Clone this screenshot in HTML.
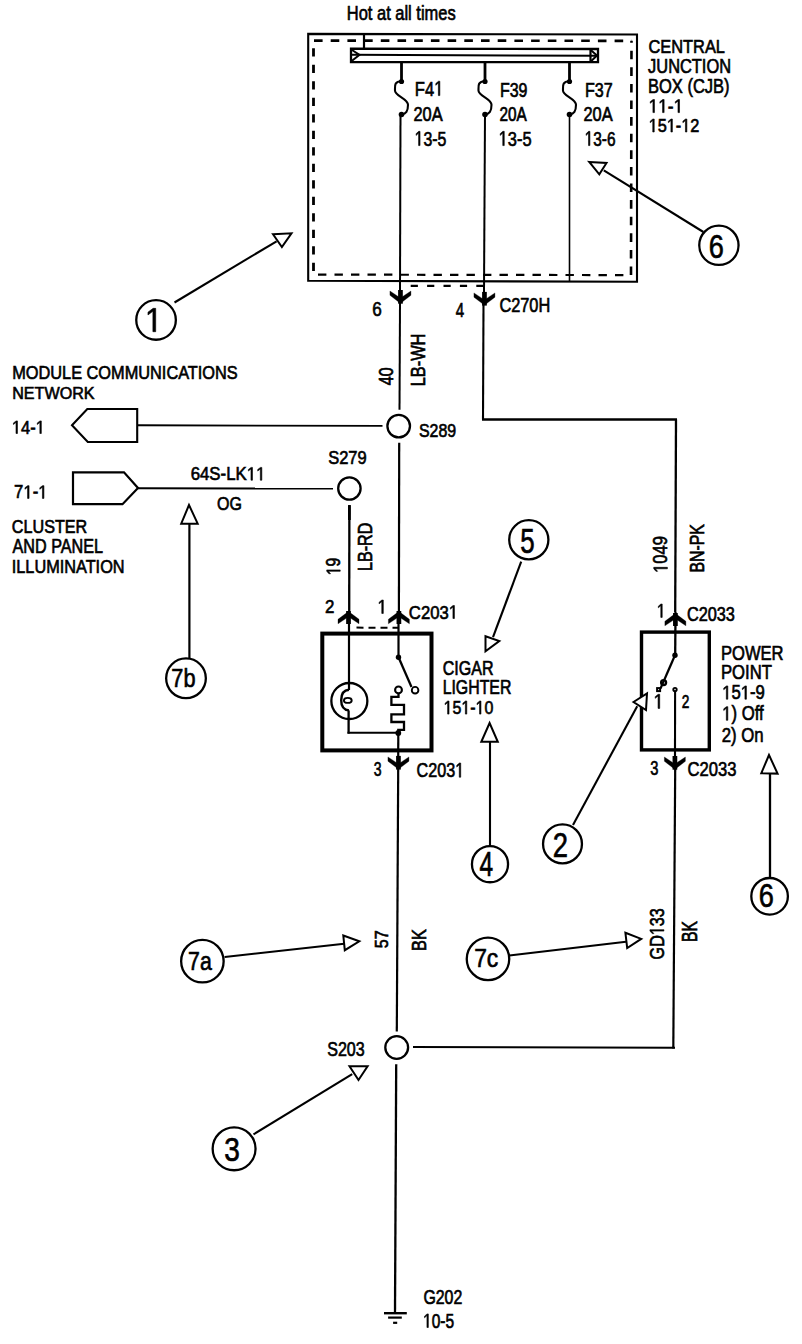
<!DOCTYPE html>
<html><head><meta charset="utf-8"><style>
html,body{margin:0;padding:0;background:#fff;}
svg{display:block;}
text{font-family:"Liberation Sans",sans-serif;fill:#000;stroke:#000;}
</style></head><body>
<svg width="802" height="1344" viewBox="0 0 802 1344">
<rect x="0" y="0" width="802" height="1344" fill="#fff"/>
<g stroke="#000" fill="none" stroke-linecap="butt">
<polygon points="308.2,33.9 637,34.5 637,281.8 308.2,280.7" stroke-width="2.1" fill="none"/>
<line x1="313.5" y1="40.6" x2="631.5" y2="40.8" stroke-width="2.7" stroke-dasharray="8.6 8.1" stroke-dashoffset="16.20"/>
<line x1="313.5" y1="274.5" x2="313.5" y2="40.6" stroke-width="2.8" stroke-dasharray="8.2 8.3" stroke-dashoffset="12.90"/>
<line x1="313.5" y1="274.6" x2="631" y2="275.1" stroke-width="2.2" stroke-dasharray="8.4 8.1" stroke-dashoffset="12.00"/>
<line x1="631" y1="275.1" x2="631.5" y2="40.8" stroke-width="2.6" stroke-dasharray="8.6 8.0" stroke-dashoffset="0.00"/>
<line x1="364" y1="34" x2="364" y2="48" stroke-width="2.2"/>
<polygon points="351,48.6 598,49 598,62.2 351,62" stroke-width="2.3" fill="none"/>
<line x1="351" y1="54.8" x2="598" y2="55.8" stroke-width="1.9"/>
<polyline points="352,50 359.5,54.8 352,60.8" stroke-width="2" fill="none"/>
<line x1="590.5" y1="49" x2="590.5" y2="62" stroke-width="2.2"/>
<polyline points="591,50.2 597,55.6 591,61.2" stroke-width="2" fill="none"/>
<line x1="401.5" y1="62" x2="401.5" y2="81" stroke-width="2.8"/>
<path d="M401.5,81 C394.0,82 395.0,85 395.0,90.75 C395.0,95.75 408.0,98.75 408.0,104.75 C408.0,111.5 406.0,113.5 401.5,114.5" stroke-width="2.1" fill="none"/>
<circle cx="401.5" cy="81.5" r="2.6" stroke="none" fill="#000"/>
<circle cx="401.5" cy="114.5" r="2.8" stroke="none" fill="#000"/>
<line x1="485" y1="62" x2="485" y2="81" stroke-width="2.8"/>
<path d="M485,81 C477.5,82 478.5,85 478.5,90.75 C478.5,95.75 491.5,98.75 491.5,104.75 C491.5,111.5 489.5,113.5 485,114.5" stroke-width="2.1" fill="none"/>
<circle cx="485" cy="81.5" r="2.6" stroke="none" fill="#000"/>
<circle cx="485" cy="114.5" r="2.8" stroke="none" fill="#000"/>
<line x1="569.5" y1="62" x2="569.5" y2="81" stroke-width="2.8"/>
<path d="M569.5,81 C562.0,82 563.0,85 563.0,90.75 C563.0,95.75 576.0,98.75 576.0,104.75 C576.0,111.5 574.0,113.5 569.5,114.5" stroke-width="2.1" fill="none"/>
<circle cx="569.5" cy="81.5" r="2.6" stroke="none" fill="#000"/>
<circle cx="569.5" cy="114.5" r="2.8" stroke="none" fill="#000"/>
<line x1="400.5" y1="114.5" x2="400" y2="291" stroke-width="2"/>
<line x1="485" y1="114.5" x2="484" y2="292" stroke-width="2"/>
<line x1="569.5" y1="114.5" x2="569.5" y2="281" stroke-width="1.6"/>
<line x1="410.7" y1="285.8" x2="483.3" y2="285.8" stroke-width="2.3" stroke-dasharray="7.2 9.2"/>
<rect x="398.10" y="290.00" width="4.7" height="13.70" fill="#000" stroke="none"/>
<polygon points="389.95,291 398.95,297 398.95,302.2 389.95,295.3" stroke-width="0.3" fill="#000"/>
<polygon points="410.95,291 401.95,297 401.95,302.2 410.95,295.3" stroke-width="0.3" fill="#000"/>
<rect x="482.10" y="291.90" width="4.7" height="13.70" fill="#000" stroke="none"/>
<polygon points="473.95,292.9 482.95,298.9 482.95,304.09999999999997 473.95,297.2" stroke-width="0.3" fill="#000"/>
<polygon points="494.95,292.9 485.95,298.9 485.95,304.09999999999997 494.95,297.2" stroke-width="0.3" fill="#000"/>
<line x1="400" y1="303" x2="399.5" y2="409.7" stroke-width="2"/>
<circle cx="398.7" cy="426.1" r="11.3" stroke-width="2.3" fill="none"/>
<line x1="138" y1="425.3" x2="382.5" y2="425.9" stroke-width="1.9"/>
<line x1="399.2" y1="442.8" x2="398.9" y2="612" stroke-width="2.2"/>
<line x1="483.5" y1="303" x2="483" y2="419.5" stroke-width="2.1"/>
<line x1="482" y1="419.5" x2="677" y2="419.6" stroke-width="2.5"/>
<line x1="676" y1="419.5" x2="675.2" y2="612" stroke-width="2.3"/>
<circle cx="349.4" cy="488.5" r="11.2" stroke-width="2.3" fill="none"/>
<line x1="138" y1="488.2" x2="333" y2="488.6" stroke-width="2"/>
<line x1="349.4" y1="505" x2="349.2" y2="612" stroke-width="2.3"/>
<line x1="349.4" y1="505.2" x2="349.4" y2="520" stroke-width="2.8"/>
<polygon points="72,425.3 87.3,409 137.2,409 137.2,442 87.8,442" stroke-width="2.1" fill="none"/>
<polygon points="73,472.3 124,472.3 138,488 122.5,504.2 73,504.2" stroke-width="2.2" fill="none"/>
<rect x="322.3" y="633.6" width="109.2" height="116.8" stroke-width="4" fill="none"/>
<rect x="346.15" y="611.00" width="4.7" height="13" fill="#000" stroke="none"/>
<polygon points="338.0,623.8 347.0,617.8 347.0,612.5999999999999 338.0,619.3" stroke-width="0.3" fill="#000"/>
<polygon points="359.0,623.8 350.0,617.8 350.0,612.5999999999999 359.0,619.3" stroke-width="0.3" fill="#000"/>
<rect x="396.55" y="611.00" width="4.7" height="13" fill="#000" stroke="none"/>
<polygon points="388.4,623.8 397.4,617.8 397.4,612.5999999999999 388.4,619.3" stroke-width="0.3" fill="#000"/>
<polygon points="409.4,623.8 400.4,617.8 400.4,612.5999999999999 409.4,619.3" stroke-width="0.3" fill="#000"/>
<line x1="356.5" y1="627.6" x2="398" y2="627.8" stroke-width="2" stroke-dasharray="7 5" stroke-dashoffset="0"/>
<line x1="349" y1="612" x2="349" y2="690" stroke-width="2.2"/>
<line x1="398.5" y1="612" x2="398.5" y2="657" stroke-width="2.2"/>
<circle cx="398.5" cy="657.3" r="2.7" stroke="none" fill="#000"/>
<line x1="398.5" y1="657.3" x2="411.5" y2="687" stroke-width="2.3"/>
<circle cx="415.1" cy="690.2" r="3.3" stroke-width="1.9" fill="none"/>
<circle cx="398.5" cy="689.9" r="3.4" stroke-width="2.1" fill="none"/>
<circle cx="349.35" cy="701" r="18" stroke-width="2.3" fill="none"/>
<path d="M349,689.8 C343,690.2 341.2,695 341.2,700.3 C341.2,706 343.5,710 349,710.4" stroke-width="2.4" fill="none"/>
<ellipse cx="347.8" cy="700.4" rx="3.9" ry="2.5" stroke-width="1.9" fill="none"/>
<line x1="348.6" y1="710.4" x2="348.6" y2="733.6" stroke-width="2.3"/>
<line x1="347.5" y1="732.7" x2="398.3" y2="732.7" stroke-width="2.1"/>
<polyline points="398.5,693.3 398.5,696.8 391.4,696.8 391.4,704.9 404,704.9 404,714.3 391.4,714.3 391.4,722 404,722 404,729.8 398.3,729.8 398.3,733" stroke-width="2.3" fill="none"/>
<circle cx="398.3" cy="733" r="2.9" stroke="none" fill="#000"/>
<line x1="398.3" y1="733" x2="398.2" y2="757" stroke-width="2.2"/>
<rect x="396.10" y="755.90" width="4.7" height="13.70" fill="#000" stroke="none"/>
<polygon points="387.95,756.9 396.95,762.9 396.95,768.1 387.95,761.1999999999999" stroke-width="0.3" fill="#000"/>
<polygon points="408.95,756.9 399.95,762.9 399.95,768.1 408.95,761.1999999999999" stroke-width="0.3" fill="#000"/>
<line x1="398.2" y1="769" x2="396.8" y2="1031.5" stroke-width="2.2"/>
<circle cx="396.7" cy="1047.5" r="11.4" stroke-width="2.3" fill="none"/>
<line x1="413" y1="1047" x2="675" y2="1047.7" stroke-width="2"/>
<line x1="675.2" y1="769" x2="673.3" y2="1048.5" stroke-width="2.2"/>
<line x1="396.2" y1="1064.3" x2="395" y2="1313" stroke-width="2.3"/>
<line x1="384" y1="1313.2" x2="406.8" y2="1313.2" stroke-width="2.4"/>
<line x1="388.1" y1="1317.6" x2="401.8" y2="1317.6" stroke-width="2.2"/>
<line x1="393.1" y1="1322.8" x2="397.2" y2="1322.8" stroke-width="2.2"/>
<rect x="641.5" y="632.1" width="67.8" height="117.8" stroke-width="3.4" fill="none"/>
<rect x="673.05" y="613.00" width="4.7" height="13" fill="#000" stroke="none"/>
<polygon points="664.9,625.8 673.9,619.8 673.9,614.5999999999999 664.9,621.3" stroke-width="0.3" fill="#000"/>
<polygon points="685.9,625.8 676.9,619.8 676.9,614.5999999999999 685.9,621.3" stroke-width="0.3" fill="#000"/>
<line x1="675.5" y1="612" x2="675.2" y2="655" stroke-width="2.3"/>
<circle cx="675" cy="655.3" r="2.7" stroke="none" fill="#000"/>
<line x1="675" y1="655.3" x2="660.5" y2="688.5" stroke-width="2.2"/>
<circle cx="663.6" cy="682.6" r="2.5" stroke-width="2.3" fill="none"/>
<rect x="657.1" y="688.1" width="3" height="3" stroke-width="2" fill="none"/>
<circle cx="675" cy="689.6" r="1.7" stroke-width="1.9" fill="none"/>
<line x1="675.1" y1="691.5" x2="675" y2="757" stroke-width="2.1"/>
<rect x="672.55" y="756.00" width="4.7" height="13.70" fill="#000" stroke="none"/>
<polygon points="664.4,757 673.4,763 673.4,768.2 664.4,761.3" stroke-width="0.3" fill="#000"/>
<polygon points="685.4,757 676.4,763 676.4,768.2 685.4,761.3" stroke-width="0.3" fill="#000"/>
<line x1="174.5" y1="302.5" x2="276.6" y2="241.3" stroke-width="2.1"/>
<polygon points="273,234.2 291.5,233.3 281.9,247" stroke-width="2" fill="#fff"/>
<circle cx="156.05" cy="319.95" r="19.8" stroke-width="2.3" fill="none"/>
<line x1="703.4" y1="232" x2="603.8" y2="170.3" stroke-width="2.1"/>
<polygon points="589.2,162 606.5,163 599.3,174.3" stroke-width="2" fill="#fff"/>
<circle cx="718.9" cy="245.3" r="19.65" stroke-width="2.3" fill="none"/>
<line x1="189.4" y1="523.7" x2="189.4" y2="658.5" stroke-width="2.2"/>
<polygon points="189,505 181.2,523.7 197.7,523.7" stroke-width="2" fill="#fff"/>
<circle cx="186" cy="678.3" r="19.85" stroke-width="2.3" fill="none"/>
<line x1="521.2" y1="561.6" x2="493" y2="637.2" stroke-width="2.1"/>
<polygon points="485.5,636.2 499.3,641 485.5,651.3" stroke-width="2" fill="#fff"/>
<circle cx="528.8" cy="539.8" r="19.6" stroke-width="2.3" fill="none"/>
<line x1="490" y1="741.8" x2="490" y2="846.2" stroke-width="2.1"/>
<polygon points="489.6,723 481.3,741.8 497.8,741.8" stroke-width="2" fill="#fff"/>
<circle cx="490" cy="864.2" r="18.05" stroke-width="2.3" fill="none"/>
<line x1="573" y1="825" x2="637.2" y2="706.2" stroke-width="2.1"/>
<polygon points="633.5,702 647,693.5 646,710" stroke-width="2" fill="#fff"/>
<circle cx="562.5" cy="843.9" r="19.45" stroke-width="2.3" fill="none"/>
<line x1="770" y1="773.6" x2="770" y2="878" stroke-width="2.3"/>
<polygon points="769,755 761.3,773.2 777.6,773.6" stroke-width="2" fill="#fff"/>
<circle cx="769.6" cy="896.3" r="18.3" stroke-width="2.3" fill="none"/>
<line x1="224.7" y1="957" x2="344.2" y2="943.8" stroke-width="2.1"/>
<polygon points="343.3,935.5 359.3,941.3 344.8,950.2" stroke-width="2" fill="#fff"/>
<circle cx="202.4" cy="961.2" r="21.25" stroke-width="2.3" fill="none"/>
<line x1="509.3" y1="955.5" x2="626" y2="941.7" stroke-width="2.1"/>
<polygon points="625.4,932.8 641.2,938.9 627.2,948" stroke-width="2" fill="#fff"/>
<circle cx="488" cy="958.9" r="21.25" stroke-width="2.3" fill="none"/>
<line x1="253.5" y1="1134.4" x2="352.2" y2="1074.2" stroke-width="2.1"/>
<polygon points="349.5,1066.3 367.6,1066.3 358.5,1080" stroke-width="2" fill="#fff"/>
<circle cx="234.1" cy="1148.8" r="21.45" stroke-width="2.3" fill="none"/>
<text transform="translate(346.78,19.90) scale(0.16477,0.19710)" font-size="100" stroke-width="3.33">Hot at all times</text>
<text transform="translate(414.87,95.60) scale(0.16573,0.20870)" font-size="100" stroke-width="3.23">F4 </text>
<g transform="translate(414.87,95.60) scale(0.16573,0.20870)" stroke-width="3.23"><path d="M141.83,0 V-60.40 L126.31,-49.32 V-57.62 L142.57,-68.80 H150.67 V0 Z" fill="#000"/></g>
<text transform="translate(413.48,120.59) scale(0.16416,0.20563)" font-size="100" stroke-width="3.27">20A</text>
<text transform="translate(414.61,145.59) scale(0.15914,0.20704)" font-size="100" stroke-width="3.31"> 3-5</text>
<g transform="translate(414.61,145.59) scale(0.15914,0.20704)" stroke-width="3.31"><path d="M25.15,0 V-60.40 L9.62,-49.32 V-57.62 L25.88,-68.80 H33.98 V0 Z" fill="#000"/></g>
<text transform="translate(499.92,97.40) scale(0.16000,0.20141)" font-size="100" stroke-width="3.34">F39</text>
<text transform="translate(499.53,120.60) scale(0.15318,0.20141)" font-size="100" stroke-width="3.42">20A</text>
<text transform="translate(498.65,145.59) scale(0.16452,0.20704)" font-size="100" stroke-width="3.25"> 3-5</text>
<g transform="translate(498.65,145.59) scale(0.16452,0.20704)" stroke-width="3.25"><path d="M25.15,0 V-60.40 L9.62,-49.32 V-57.62 L25.88,-68.80 H33.98 V0 Z" fill="#000"/></g>
<text transform="translate(584.91,97.40) scale(0.16101,0.20141)" font-size="100" stroke-width="3.33">F37</text>
<text transform="translate(583.48,121.40) scale(0.16416,0.20282)" font-size="100" stroke-width="3.29">20A</text>
<text transform="translate(584.66,145.59) scale(0.15430,0.20704)" font-size="100" stroke-width="3.36"> 3-6</text>
<g transform="translate(584.66,145.59) scale(0.15430,0.20704)" stroke-width="3.36"><path d="M25.15,0 V-60.40 L9.62,-49.32 V-57.62 L25.88,-68.80 H33.98 V0 Z" fill="#000"/></g>
<text transform="translate(648.48,53.22) scale(0.16383,0.18451)" font-size="100" stroke-width="3.45">CENTRAL</text>
<text transform="translate(648.07,73.21) scale(0.16424,0.19437)" font-size="100" stroke-width="3.36">JUNCTION</text>
<text transform="translate(647.98,93.30) scale(0.16500,0.20435)" font-size="100" stroke-width="3.27">BOX (CJB)</text>
<text transform="translate(648.57,112.60) scale(0.17337,0.18986)" font-size="100" stroke-width="3.31">  - </text>
<g transform="translate(648.57,112.60) scale(0.17337,0.18986)" stroke-width="3.31"><path d="M25.15,0 V-60.40 L9.62,-49.32 V-57.62 L25.88,-68.80 H33.98 V0 Z" fill="#000"/><path d="M80.76,0 V-60.40 L65.23,-49.32 V-57.62 L81.49,-68.80 H89.59 V0 Z" fill="#000"/><path d="M169.68,0 V-60.40 L154.15,-49.32 V-57.62 L170.41,-68.80 H178.52 V0 Z" fill="#000"/></g>
<text transform="translate(648.67,132.01) scale(0.16318,0.18873)" font-size="100" stroke-width="3.42"> 5 - 2</text>
<g transform="translate(648.67,132.01) scale(0.16318,0.18873)" stroke-width="3.42"><path d="M25.15,0 V-60.40 L9.62,-49.32 V-57.62 L25.88,-68.80 H33.98 V0 Z" fill="#000"/><path d="M136.37,0 V-60.40 L120.84,-49.32 V-57.62 L137.10,-68.80 H145.20 V0 Z" fill="#000"/><path d="M225.29,0 V-60.40 L209.76,-49.32 V-57.62 L226.02,-68.80 H234.12 V0 Z" fill="#000"/></g>
<text transform="translate(372.14,316.31) scale(0.17174,0.19296)" font-size="100" stroke-width="3.30">6</text>
<text transform="translate(455.80,316.70) scale(0.15098,0.19706)" font-size="100" stroke-width="3.48">4</text>
<text transform="translate(499.38,311.70) scale(0.16342,0.19859)" font-size="100" stroke-width="3.33">C270H</text>
<text transform="translate(12.19,379.41) scale(0.16340,0.18732)" font-size="100" stroke-width="3.43">MODULE COMMUNICATIONS</text>
<text transform="translate(12.21,399.23) scale(0.16135,0.17183)" font-size="100" stroke-width="3.60">NETWORK</text>
<text transform="translate(11.85,433.50) scale(0.16509,0.18261)" font-size="100" stroke-width="3.46"> 4- </text>
<g transform="translate(11.85,433.50) scale(0.16509,0.18261)" stroke-width="3.46"><path d="M25.15,0 V-60.40 L9.62,-49.32 V-57.62 L25.88,-68.80 H33.98 V0 Z" fill="#000"/><path d="M169.68,0 V-60.40 L154.15,-49.32 V-57.62 L170.41,-68.80 H178.52 V0 Z" fill="#000"/></g>
<text transform="translate(419.00,436.62) scale(0.15937,0.18169)" font-size="100" stroke-width="3.53">S289</text>
<text transform="translate(328.17,464.11) scale(0.16518,0.18732)" font-size="100" stroke-width="3.41">S279</text>
<text transform="translate(14.06,498.40) scale(0.16724,0.18551)" font-size="100" stroke-width="3.41">7 - </text>
<g transform="translate(14.06,498.40) scale(0.16724,0.18551)" stroke-width="3.41"><path d="M80.76,0 V-60.40 L65.23,-49.32 V-57.62 L81.49,-68.80 H89.59 V0 Z" fill="#000"/><path d="M169.68,0 V-60.40 L154.15,-49.32 V-57.62 L170.41,-68.80 H178.52 V0 Z" fill="#000"/></g>
<text transform="translate(190.66,480.21) scale(0.16818,0.18592)" font-size="100" stroke-width="3.39">64S-LK  </text>
<g transform="translate(190.66,480.21) scale(0.16818,0.18592)" stroke-width="3.39"><path d="M358.68,0 V-60.40 L343.15,-49.32 V-57.62 L359.41,-68.80 H367.52 V0 Z" fill="#000"/><path d="M414.30,0 V-60.40 L398.78,-49.32 V-57.62 L415.04,-68.80 H423.14 V0 Z" fill="#000"/></g>
<text transform="translate(217.10,509.82) scale(0.16014,0.18451)" font-size="100" stroke-width="3.49">OG</text>
<text transform="translate(11.79,532.82) scale(0.16184,0.17606)" font-size="100" stroke-width="3.55">CLUSTER</text>
<text transform="translate(12.60,553.10) scale(0.16151,0.19420)" font-size="100" stroke-width="3.39">AND PANEL</text>
<text transform="translate(11.73,573.01) scale(0.16302,0.18873)" font-size="100" stroke-width="3.42">ILLUMINATION</text>
<text transform="translate(325.05,613.45) scale(0.16957,0.19214)" font-size="100" stroke-width="3.32">2</text>
<text transform="translate(377.49,613.45) scale(0.17083,0.19493)" font-size="100" stroke-width="3.29"> </text>
<g transform="translate(377.49,613.45) scale(0.17083,0.19493)" stroke-width="3.29"><path d="M25.15,0 V-60.40 L9.62,-49.32 V-57.62 L25.88,-68.80 H33.98 V0 Z" fill="#000"/></g>
<text transform="translate(408.87,618.51) scale(0.16679,0.18873)" font-size="100" stroke-width="3.38">C203 </text>
<g transform="translate(408.87,618.51) scale(0.16679,0.18873)" stroke-width="3.38"><path d="M264.21,0 V-60.40 L248.68,-49.32 V-57.62 L264.94,-68.80 H273.05 V0 Z" fill="#000"/></g>
<text transform="translate(442.70,675.11) scale(0.16046,0.19437)" font-size="100" stroke-width="3.40">CIGAR</text>
<text transform="translate(442.63,694.41) scale(0.15881,0.19296)" font-size="100" stroke-width="3.43">LIGHTER</text>
<text transform="translate(443.60,714.11) scale(0.15960,0.19014)" font-size="100" stroke-width="3.44"> 5 - 0</text>
<g transform="translate(443.60,714.11) scale(0.15960,0.19014)" stroke-width="3.44"><path d="M25.15,0 V-60.40 L9.62,-49.32 V-57.62 L25.88,-68.80 H33.98 V0 Z" fill="#000"/><path d="M136.37,0 V-60.40 L120.84,-49.32 V-57.62 L137.10,-68.80 H145.20 V0 Z" fill="#000"/><path d="M225.29,0 V-60.40 L209.76,-49.32 V-57.62 L226.02,-68.80 H234.12 V0 Z" fill="#000"/></g>
<text transform="translate(373.74,776.31) scale(0.14043,0.19296)" font-size="100" stroke-width="3.64">3</text>
<text transform="translate(416.59,777.19) scale(0.16157,0.20563)" font-size="100" stroke-width="3.29">C203 </text>
<g transform="translate(416.59,777.19) scale(0.16157,0.20563)" stroke-width="3.29"><path d="M264.21,0 V-60.40 L248.68,-49.32 V-57.62 L264.94,-68.80 H273.05 V0 Z" fill="#000"/></g>
<text transform="translate(656.82,617.40) scale(0.15833,0.19420)" font-size="100" stroke-width="3.42"> </text>
<g transform="translate(656.82,617.40) scale(0.15833,0.19420)" stroke-width="3.42"><path d="M25.15,0 V-60.40 L9.62,-49.32 V-57.62 L25.88,-68.80 H33.98 V0 Z" fill="#000"/></g>
<text transform="translate(686.88,620.71) scale(0.16316,0.19437)" font-size="100" stroke-width="3.37">C2033</text>
<text transform="translate(720.97,659.50) scale(0.16593,0.19577)" font-size="100" stroke-width="3.33">POWER</text>
<text transform="translate(720.97,678.91) scale(0.16678,0.19437)" font-size="100" stroke-width="3.33">POINT</text>
<text transform="translate(722.13,699.21) scale(0.16722,0.19296)" font-size="100" stroke-width="3.34"> 5 -9</text>
<g transform="translate(722.13,699.21) scale(0.16722,0.19296)" stroke-width="3.34"><path d="M25.15,0 V-60.40 L9.62,-49.32 V-57.62 L25.88,-68.80 H33.98 V0 Z" fill="#000"/><path d="M136.37,0 V-60.40 L120.84,-49.32 V-57.62 L137.10,-68.80 H145.20 V0 Z" fill="#000"/></g>
<text transform="translate(722.13,720.30) scale(0.16723,0.19855)" font-size="100" stroke-width="3.29"> ) Off</text>
<g transform="translate(722.13,720.30) scale(0.16723,0.19855)" stroke-width="3.29"><path d="M25.15,0 V-60.40 L9.62,-49.32 V-57.62 L25.88,-68.80 H33.98 V0 Z" fill="#000"/></g>
<text transform="translate(721.66,741.70) scale(0.16778,0.20435)" font-size="100" stroke-width="3.24">2) On</text>
<text transform="translate(653.47,708.40) scale(0.18333,0.20435)" font-size="100" stroke-width="3.10"> </text>
<g transform="translate(653.47,708.40) scale(0.18333,0.20435)" stroke-width="3.10"><path d="M25.15,0 V-60.40 L9.62,-49.32 V-57.62 L25.88,-68.80 H33.98 V0 Z" fill="#000"/></g>
<text transform="translate(681.72,708.40) scale(0.13696,0.18714)" font-size="100" stroke-width="3.75">2</text>
<text transform="translate(650.31,775.11) scale(0.14681,0.19437)" font-size="100" stroke-width="3.55">3</text>
<text transform="translate(687.47,775.70) scale(0.16632,0.20282)" font-size="100" stroke-width="3.27">C2033</text>
<text transform="translate(327.20,1055.90) scale(0.16071,0.20141)" font-size="100" stroke-width="3.33">S203</text>
<text transform="translate(423.40,1303.81) scale(0.15915,0.19296)" font-size="100" stroke-width="3.42">G202</text>
<text transform="translate(423.05,1327.50) scale(0.15538,0.19718)" font-size="100" stroke-width="3.43"> 0-5</text>
<g transform="translate(423.05,1327.50) scale(0.15538,0.19718)" stroke-width="3.43"><path d="M25.15,0 V-60.40 L9.62,-49.32 V-57.62 L25.88,-68.80 H33.98 V0 Z" fill="#000"/></g>
<text transform="translate(144.93,331.70) scale(0.31667,0.33913)" font-size="100" stroke-width="1.83"> </text>
<g transform="translate(144.93,331.70) scale(0.31667,0.33913)" stroke-width="1.83"><path d="M25.15,0 V-60.40 L9.62,-49.32 V-57.62 L25.88,-68.80 H33.98 V0 Z" fill="#000"/></g>
<text transform="translate(708.74,258.12) scale(0.27174,0.32887)" font-size="100" stroke-width="2.01">6</text>
<text transform="translate(520.27,553.11) scale(0.25851,0.34357)" font-size="100" stroke-width="2.01">5</text>
<text transform="translate(479.61,875.96) scale(0.24510,0.35735)" font-size="100" stroke-width="2.03">4</text>
<text transform="translate(552.73,857.45) scale(0.27391,0.34786)" font-size="100" stroke-width="1.94">2</text>
<text transform="translate(758.74,907.26) scale(0.27174,0.34085)" font-size="100" stroke-width="1.97">6</text>
<text transform="translate(224.18,1161.11) scale(0.28085,0.33873)" font-size="100" stroke-width="1.95">3</text>
<text transform="translate(188.03,969.50) scale(0.21321,0.26522)" font-size="100" stroke-width="2.52">7a</text>
<text transform="translate(474.16,967.10) scale(0.22857,0.25797)" font-size="100" stroke-width="2.47">7c</text>
<text transform="translate(171.31,687.30) scale(0.21765,0.26667)" font-size="100" stroke-width="2.49">7b</text>
<text transform="translate(392.81,385.22) rotate(-90) scale(0.16000,0.19296)" font-size="100" stroke-width="3.41">40</text>
<text transform="translate(425.30,386.21) rotate(-90) scale(0.16340,0.19420)" font-size="100" stroke-width="3.37">LB-WH</text>
<text transform="translate(340.20,575.27) rotate(-90) scale(0.15729,0.19577)" font-size="100" stroke-width="3.42"> 9</text>
<g transform="translate(340.20,575.27) rotate(-90) scale(0.15729,0.19577)" stroke-width="3.42"><path d="M25.15,0 V-60.40 L9.62,-49.32 V-57.62 L25.88,-68.80 H33.98 V0 Z" fill="#000"/></g>
<text transform="translate(371.60,570.99) rotate(-90) scale(0.16132,0.19855)" font-size="100" stroke-width="3.35">LB-RD</text>
<text transform="translate(667.40,572.95) rotate(-90) scale(0.16538,0.19859)" font-size="100" stroke-width="3.31"> 049</text>
<g transform="translate(667.40,572.95) rotate(-90) scale(0.16538,0.19859)" stroke-width="3.31"><path d="M25.15,0 V-60.40 L9.62,-49.32 V-57.62 L25.88,-68.80 H33.98 V0 Z" fill="#000"/></g>
<text transform="translate(703.80,572.57) rotate(-90) scale(0.15845,0.20145)" font-size="100" stroke-width="3.36">BN-PK</text>
<text transform="translate(388.41,948.25) rotate(-90) scale(0.16176,0.19000)" font-size="100" stroke-width="3.42">57</text>
<text transform="translate(425.50,950.91) rotate(-90) scale(0.16371,0.20000)" font-size="100" stroke-width="3.32">BK</text>
<text transform="translate(663.90,959.41) rotate(-90) scale(0.16156,0.20282)" font-size="100" stroke-width="3.31">GD 33</text>
<g transform="translate(663.90,959.41) rotate(-90) scale(0.16156,0.20282)" stroke-width="3.31"><path d="M175.15,0 V-60.40 L159.62,-49.32 V-57.62 L175.88,-68.80 H183.98 V0 Z" fill="#000"/></g>
<text transform="translate(696.90,941.96) rotate(-90) scale(0.15726,0.21304)" font-size="100" stroke-width="3.28">BK</text>
</g>
</svg>
</body></html>
